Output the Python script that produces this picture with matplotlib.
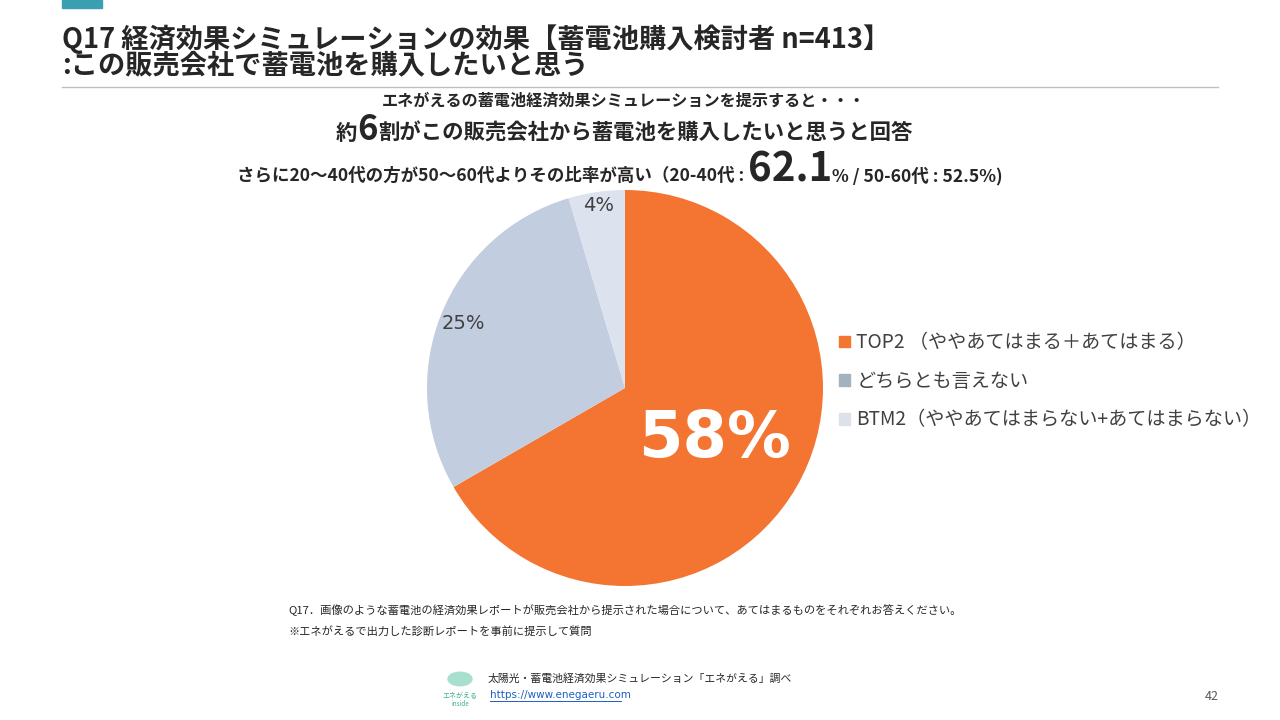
import matplotlib.pyplot as plt
import numpy as np
from matplotlib.patches import Patch, Rectangle, Circle

plt.rcParams["font.family"] = ["Noto Sans CJK JP", "DejaVu Sans"]

# data
labels = [
    "TOP2 （ややあてはまる＋あてはまる）",
    "どちらとも言えない",
    "BTM2（ややあてはまらない+あてはまらない）",
]
values = [58, 25, 4]
pie_colors = ["#F47532", "#C3CDE0", "#DDE3EE"]
legend_colors = ["#F47532", "#A4B2BE", "#DDE2E9"]

W, H = 1280, 720
fig = plt.figure(figsize=(12.8, 7.2), dpi=100)


def px(x, y):
    return x / W, 1 - y / H


def row(segments, xc, y, **kw):
    # segments: list of (text, size, weight); centred on xc, common baseline y
    r = fig.canvas.get_renderer()
    texts = []
    for s, size, weight in segments:
        t = fig.text(0, 0, s, fontsize=size, fontweight=weight,
                     va="baseline", ha="left", **kw)
        texts.append(t)
    widths = [t.get_window_extent(r).width for t in texts]
    x = xc - sum(widths) / 2
    for t, w in zip(texts, widths):
        t.set_position(px(x, y))
        x += w


# header
fig.add_artist(Rectangle(px(62, 8), 40 / W, 8 / H, color="#3A9FB0",
                         transform=fig.transFigure))
fig.text(*px(62, 39), "Q17 経済効果シミュレーションの効果【蓄電池購入検討者 n=413】",
         fontsize=19.6, fontweight="bold", color="#262626", va="center")
fig.text(*px(62, 65), ":この販売会社で蓄電池を購入したいと思う",
         fontsize=19.6, fontweight="bold", color="#262626", va="center")
fig.add_artist(plt.Line2D([62 / W, 1218 / W], [1 - 87 / H] * 2,
                          color="#BFBFBF", lw=1, transform=fig.transFigure))

row([("エネがえるの蓄電池経済効果シミュレーションを提示すると・・・", 11.6, "bold")],
    624, 106, color="#262626")
row([("約", 15.4, "bold"), ("6", 25, "bold"),
     ("割がこの販売会社から蓄電池を購入したいと思うと回答", 15.4, "bold")],
    624, 140, color="#262626")
row([("さらに20～40代の方が50～60代よりその比率が高い（20-40代 : ", 12.6, "bold"),
     ("62.1", 29, "bold"), ("% / 50-60代 : 52.5%)", 12.6, "bold")],
    620, 181, color="#262626")

# pie
R = 198
ax = fig.add_axes([(625 - R) / W, (H - 388 - R) / H, 2 * R / W, 2 * R / H])
wedges, _ = ax.pie(values, colors=pie_colors, startangle=90, counterclock=False,
                   radius=1, wedgeprops=dict(linewidth=0))
ax.set_xlim(-1, 1)
ax.set_ylim(-1, 1)
ax.set_aspect("equal")
ax.axis("off")

dist = [0.52, 0.88, 0.93]
for w, v, d in zip(wedges, values, dist):
    a = np.deg2rad((w.theta1 + w.theta2) / 2)
    if v == max(values):
        ax.text(d * np.cos(a), d * np.sin(a), f"{v}%", ha="center", va="center",
                fontsize=46, fontweight="bold", color="white", family="DejaVu Sans")
    else:
        ax.text(d * np.cos(a), d * np.sin(a), f"{v}%", ha="center", va="center",
                fontsize=14, color="#404040", family="DejaVu Sans")

handles = [Patch(color=c) for c in legend_colors]
fig.legend(handles, labels, loc="upper left", bbox_to_anchor=px(822, 315),
           frameon=False, fontsize=13.8, handlelength=0.55, handleheight=0.55,
           handletextpad=0.35, labelspacing=0.92, labelcolor="#404040")

# footnotes
fig.text(*px(288, 610), "Q17．画像のような蓄電池の経済効果レポートが販売会社から提示された場合について、あてはまるものをそれぞれお答えください。",
         fontsize=8.1, color="#262626", va="center")
fig.text(*px(288, 631), "※エネがえるで出力した診断レポートを事前に提示して質問",
         fontsize=8.1, color="#262626", va="center")

# footer
fig.add_artist(Circle(px(460, 679), 12 / W, color="#A8E0CF",
                      transform=fig.transFigure))
fig.text(*px(460, 695), "エネがえる", fontsize=5, color="#3AAE8C", ha="center", va="center")
fig.text(*px(460, 704), "inside", fontsize=4.5, color="#3AAE8C", ha="center", va="center")
fig.text(*px(488, 679), "太陽光・蓄電池経済効果シミュレーション「エネがえる」調べ",
         fontsize=7.8, color="#262626", va="center")
fig.text(*px(490, 695), "https://www.enegaeru.com", fontsize=7.5, color="#1F5FBF",
         va="center", family="DejaVu Sans")
fig.add_artist(plt.Line2D([490 / W, 621 / W], [1 - 701 / H] * 2, color="#1F5FBF",
                          lw=0.7, transform=fig.transFigure))
fig.text(*px(1205, 696), "42", fontsize=9, color="#595959", va="center")

fig.savefig("out.png", dpi=100)
